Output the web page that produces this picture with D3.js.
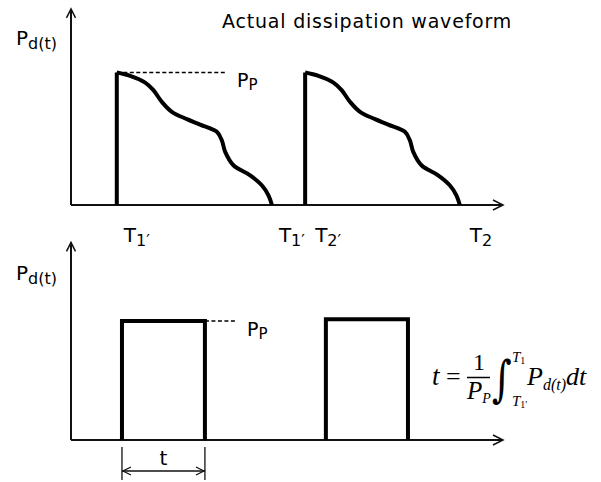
<!DOCTYPE html>
<html><head><meta charset="utf-8">
<script src="https://cdn.jsdelivr.net/npm/d3@7"></script>
<style>
html,body{margin:0;padding:0;background:#fff;}
svg{display:block;}
text{font-family:"DejaVu Sans",Verdana,sans-serif;fill:#000;}
.math{font-family:"Liberation Serif","DejaVu Serif",serif;font-style:italic;}
.up{font-style:normal;}
</style></head><body>
<svg id="chart" width="601" height="482"></svg>
<script>
// Shape of one dissipation pulse: fraction of the pulse duration vs fraction of peak power
const shapeFrac  = [0, 0.086, 0.183, 0.236, 0.290, 0.355, 0.452, 0.537, 0.645, 0.677, 0.699, 0.752, 0.860, 0.935, 0.978, 1];
const shapePower = [1, 0.975, 0.924, 0.867, 0.779, 0.703, 0.648, 0.607, 0.552, 0.489, 0.401, 0.300, 0.224, 0.149, 0.073, 0];
// Edges of the actual pulses on the time axis
const pulseStart = [10.6, 54.2];
const pulseEnd   = [46.5, 90.0];
// Equivalent rectangular pulses
const rectStart = [11.8, 59.0];
const rectEnd   = [31.0, 78.0];
const rectPower = [1.0, 1.015];
// Time markers under the upper axis
const markerTime = [10.6, 46.5, 54.2, 90.0];
const markerMain = ["T", "T", "T", "T"];
const markerSub  = ["1′", "1′", "2′", "2"];

const svg = d3.select("#chart");
const x = d3.scaleLinear().domain([0, 100]).range([71, 503]);
const yTop = d3.scaleLinear().domain([0, 1]).range([205, 72.5]);
const yBot = d3.scaleLinear().domain([0, 1]).range([440, 321]);

function axes(y, yMax, w) {
  const g = svg.append("g").attr("stroke", "#111").attr("stroke-width", w).attr("fill", "none");
  const x0 = x(0), y0 = y(0), xe = x(100), ye = y(yMax);
  g.append("line").attr("x1", x0).attr("y1", y0).attr("x2", xe).attr("y2", y0);
  g.append("line").attr("x1", x0).attr("y1", y0).attr("x2", x0).attr("y2", ye);
  g.append("path").attr("stroke-width", 1.5).attr("d", `M${xe-10},${y0-5}L${xe},${y0}L${xe-10},${y0+5}`);
  g.append("path").attr("stroke-width", 1.5).attr("d", `M${x0-4.5},${ye+9}L${x0},${ye}L${x0+4.5},${ye+9}`);
}

function label(px, py, main, sub, size, subSize, dy) {
  const t = svg.append("text").attr("x", px).attr("y", py).attr("font-size", size);
  t.append("tspan").text(main);
  t.append("tspan").attr("font-size", subSize).attr("dy", dy).text(sub);
  return t;
}

// ---- upper panel: actual dissipation waveform ----
axes(yTop, 1.48, 2);

const curve = d3.line().x(d => d[0]).y(d => d[1]).curve(d3.curveCatmullRom.alpha(0.5));
pulseStart.forEach((s, i) => {
  const e = pulseEnd[i];
  const pts = shapeFrac.map((f, k) => [x(s + f * (e - s)), yTop(shapePower[k])]);
  svg.append("line").attr("x1", x(s)).attr("y1", yTop(0)).attr("x2", x(s)).attr("y2", yTop(1))
    .attr("stroke", "#000").attr("stroke-width", 4);
  svg.append("path").attr("d", curve(pts)).attr("fill", "none")
    .attr("stroke", "#000").attr("stroke-width", 4).attr("stroke-linejoin", "round").attr("stroke-linecap", "butt");
});

svg.append("line").attr("x1", x(pulseStart[0])).attr("x2", 225)
  .attr("y1", yTop(1)).attr("y2", yTop(1))
  .attr("stroke", "#000").attr("stroke-width", 1.3).attr("stroke-dasharray", "4,2.5");
label(237, 87, "P", "P", 19, 15, 3);

label(16, 45, "P", "d(t)", 20, 16, 4);
svg.append("text").attr("x", 222).attr("y", 28).attr("font-size", 19).attr("letter-spacing", 0.8)
  .text("Actual dissipation waveform");

const labelOffset = [7, 7, 10, 10];
markerTime.forEach((t, i) => {
  label(x(t) + labelOffset[i], 242, markerMain[i], markerSub[i], 20, 16, 4);
});

// ---- lower panel: equivalent rectangular pulses ----
axes(yBot, 1.66, 2);

rectStart.forEach((s, i) => {
  const e = rectEnd[i], p = rectPower[i];
  svg.append("path")
    .attr("d", d3.line()([[x(s), yBot(0)], [x(s), yBot(p)], [x(e), yBot(p)], [x(e), yBot(0)]]))
    .attr("fill", "none").attr("stroke", "#000").attr("stroke-width", 4).attr("stroke-linejoin", "miter");
});

svg.append("line").attr("x1", x(rectEnd[0])).attr("x2", 237)
  .attr("y1", yBot(rectPower[0])).attr("y2", yBot(rectPower[0]))
  .attr("stroke", "#000").attr("stroke-width", 1.3).attr("stroke-dasharray", "4,2.5");
label(247, 336, "P", "P", 19, 15, 3);
label(16, 280, "P", "d(t)", 20, 16, 4);

// width dimension of the first rectangle
const dim = svg.append("g").attr("stroke", "#111").attr("stroke-width", 1.3).attr("fill", "none");
const xa = x(rectStart[0]), xb = x(rectEnd[0]);
dim.append("line").attr("x1", xa).attr("x2", xa).attr("y1", 447).attr("y2", 480);
dim.append("line").attr("x1", xb).attr("x2", xb).attr("y1", 447).attr("y2", 480);
dim.append("line").attr("x1", xa).attr("x2", xb).attr("y1", 471).attr("y2", 471);
dim.append("path").attr("d", `M${xa+9},${467}L${xa+1},${471}L${xa+9},${475}`);
dim.append("path").attr("d", `M${xb-9},${467}L${xb-1},${471}L${xb-9},${475}`);
svg.append("text").attr("x", (xa + xb) / 2).attr("y", 465).attr("font-size", 20)
  .attr("text-anchor", "middle").text("t");

// formula t = 1/P_P ∫ P_d(t) dt
const m = svg.append("g").attr("class", "math");
m.append("text").attr("class", "math").attr("x", 432).attr("y", 385).attr("font-size", 27).text("t");
m.append("text").attr("class", "math up").attr("x", 446).attr("y", 385).attr("font-size", 26).text("=");
m.append("text").attr("class", "math up").attr("x", 473).attr("y", 370).attr("font-size", 24).text("1");
m.append("line").attr("x1", 467).attr("x2", 490).attr("y1", 377.5).attr("y2", 377.5)
  .attr("stroke", "#000").attr("stroke-width", 1.5);
const den = m.append("text").attr("class", "math").attr("x", 467).attr("y", 399).attr("font-size", 25);
den.append("tspan").text("P");
den.append("tspan").attr("font-size", 14).attr("dy", 4).text("P");
m.append("text").attr("class", "math up")
  .attr("transform", "translate(492,396) scale(1.0,1.3)")
  .attr("font-size", 38).style("font-family", "'DejaVu Serif',serif").text("∫");
const up = m.append("text").attr("class", "math").attr("x", 512).attr("y", 362).attr("font-size", 15);
up.append("tspan").text("T");
up.append("tspan").attr("class", "up").attr("font-size", 10).attr("dy", 2).text("1");
const lo = m.append("text").attr("class", "math").attr("x", 512).attr("y", 406).attr("font-size", 15);
lo.append("tspan").text("T");
lo.append("tspan").attr("class", "up").attr("font-size", 10).attr("dy", 2).text("1′");
const ig = m.append("text").attr("class", "math").attr("x", 527).attr("y", 385).attr("font-size", 26);
ig.append("tspan").text("P");
ig.append("tspan").attr("font-size", 16).attr("dy", 5).text("d(t)");
ig.append("tspan").attr("dy", -5).text("dt");
</script>
</body></html>
